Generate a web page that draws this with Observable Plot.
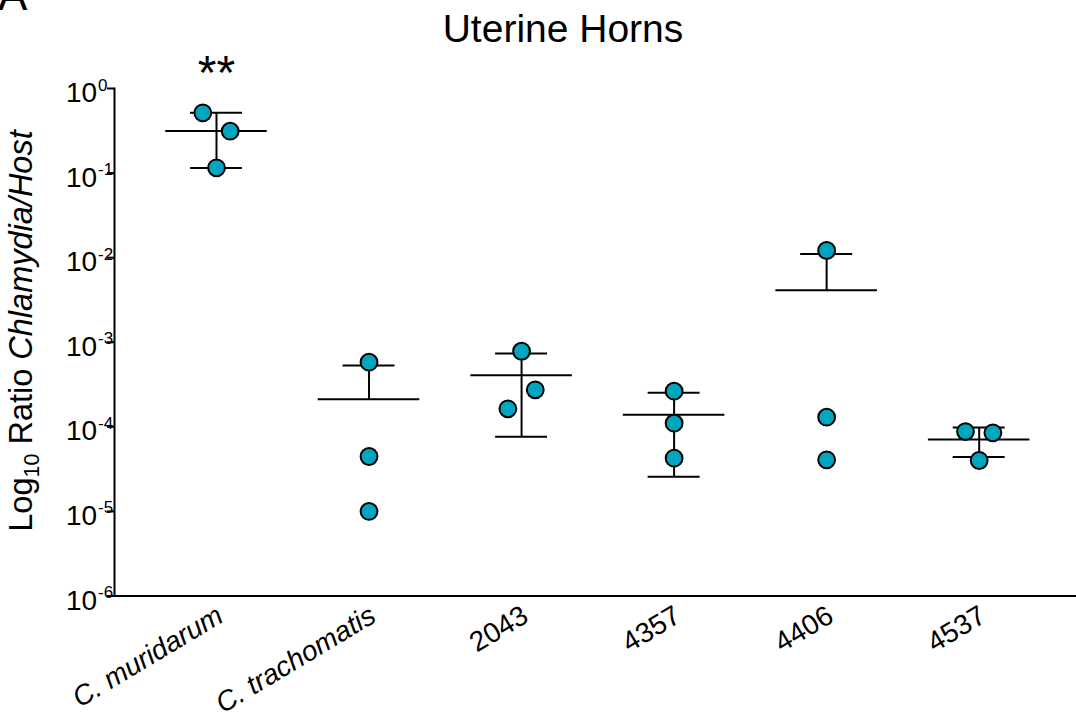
<!DOCTYPE html>
<html>
<head>
<meta charset="utf-8">
<script src="https://cdn.jsdelivr.net/npm/d3@7"></script>
<script src="https://cdn.jsdelivr.net/npm/@observablehq/plot@0.6"></script>
<style>
  html, body { margin: 0; padding: 0; background: #fff; }
  body { font-family: "Liberation Sans", Arial, sans-serif; color: #000; }
  #wrap { position: relative; width: 1076px; height: 721px; overflow: hidden; }
  #chart { position: absolute; left: 0; top: 0; }
  #title { position: absolute; left: 563px; top: 9px; transform: translateX(-50%);
           font-size: 39px; line-height: 1; white-space: nowrap; }
  #panel { position: absolute; left: -2px; top: -27px; font-size: 44px; line-height: 1; }
  #ylabel { position: absolute; left: 24px; top: 331px; transform: translate(-50%, -50%) rotate(-90deg);
            font-size: 32.5px; line-height: 1; white-space: nowrap; }
  #ylabel sub { font-size: 0.66em; }
</style>
</head>
<body>
<div id="wrap">
  <div id="chart"></div>
  <div id="panel">A</div>
  <div id="title">Uterine Horns</div>
  <div id="ylabel">Log<sub>10</sub> Ratio <i>Chlamydia/Host</i></div>
</div>
<script>
// ---- data ----
const categories = ["C. muridarum", "C. trachomatis", "2043", "4357", "4406", "4537"];
const italicCategories = ["C. muridarum", "C. trachomatis"];
const plainCategories = ["2043", "4357", "4406", "4537"];

const muridarum   = [0.516, 0.313, 0.1155];
const trachomatis = [5.81e-4, 4.46e-5, 1.0e-5];
const iso2043     = [7.83e-4, 2.74e-4, 1.633e-4];
const iso4357     = [2.637e-4, 1.104e-4, 4.26e-5];
const iso4406     = [0.01216, 1.30e-4, 4.07e-5];
const iso4537     = [8.80e-5, 8.50e-5, 4.0e-5];
const seriesValues = [muridarum, trachomatis, iso2043, iso4357, iso4406, iso4537];

// scatter column of each replicate (side-by-side placement as in the figure)
const scatterColumns = [[-1, 1, 0], [0, 0, 0], [0, 1, -1], [0, 0, 0], [0, 0, 0], [-1, 1, 0]];
const significance = ["**", "", "", "", "", ""];

const yTickValues = [1, 1e-1, 1e-2, 1e-3, 1e-4, 1e-5, 1e-6];
const yTickExponents = ["0", "-1", "-2", "-3", "-4", "-5", "-6"];

// ---- derived tables ----
const rows = categories.flatMap((c, i) =>
  seriesValues[i].map((v, j) => ({cat: c, value: v, col: scatterColumns[i][j]})));
const summary = categories.map((c, i) => {
  const v = seriesValues[i];
  const m = d3.mean(v), s = d3.deviation(v);
  return {cat: c, mean: m, hi: m + s, lo: m - s, sig: significance[i]};
});

const SPREAD = 13.7;
const LINE = 2;
const TEAL = "#00a6bf";

const plot = Plot.plot({
  width: 1076,
  height: 721,
  marginTop: 88,
  marginBottom: 125.5,
  marginLeft: 114,
  marginRight: 0,
  style: {fontFamily: '"Liberation Sans", Arial, sans-serif', background: "transparent", color: "black"},
  x: {type: "band", domain: categories, paddingInner: 0, paddingOuter: 0.1533, align: 0.55, round: false, label: null},
  y: {type: "log", domain: [1e-6, 1], label: null},
  marks: [
    // error bars: mean ± SD
    Plot.ruleX(summary, {x: "cat", y1: d => (d.lo > 0 ? d.lo : d.mean), y2: "hi", strokeWidth: LINE}),
    Plot.tickY(summary, {x: "cat", y: "mean", insetLeft: 25.5, insetRight: 25.5, strokeWidth: LINE}),
    Plot.tickY(summary, {x: "cat", y: "hi", insetLeft: 50.3, insetRight: 50.3, strokeWidth: LINE}),
    Plot.tickY(summary.filter(d => d.lo > 0), {x: "cat", y: "lo", insetLeft: 50.3, insetRight: 50.3, strokeWidth: LINE}),
    // replicate points
    ...[-1, 0, 1].map(c => Plot.dot(rows.filter(d => d.col === c), {
      x: "cat", y: "value", r: 8.4, fill: TEAL, stroke: "black", strokeWidth: LINE, dx: c * SPREAD
    })),
    // significance
    Plot.text(summary.filter(d => d.sig), {x: "cat", text: "sig", frameAnchor: "top", lineAnchor: "bottom", fontSize: 48, dy: 0}),
    // axes
    Plot.frame({anchor: "left", strokeWidth: LINE}),
    Plot.frame({anchor: "bottom", strokeWidth: LINE}),
    Plot.axisY({ticks: yTickValues, tickSize: 7, tickFormat: () => "", strokeWidth: LINE, label: null}),
    Plot.text(yTickValues, {y: d => d, text: () => "10", frameAnchor: "left", textAnchor: "end", lineAnchor: "bottom", dx: -17.3, dy: 13.5, fontSize: 28}),
    Plot.text(yTickValues, {y: d => d, text: (d, i) => yTickExponents[i], frameAnchor: "left", textAnchor: "start", lineAnchor: "bottom", dx: -16.5, dy: 2, fontSize: 17}),
    Plot.axisX(italicCategories, {tickSize: 0, tickPadding: 17, tickRotate: -31, fontStyle: "italic", fontSize: 28, label: null, dx: 4}),
    Plot.axisX(plainCategories, {tickSize: 0, tickPadding: 17, tickRotate: -31, fontSize: 28, label: null, dx: 4})
  ]
});
document.getElementById("chart").appendChild(plot);
</script>
</body>
</html>
